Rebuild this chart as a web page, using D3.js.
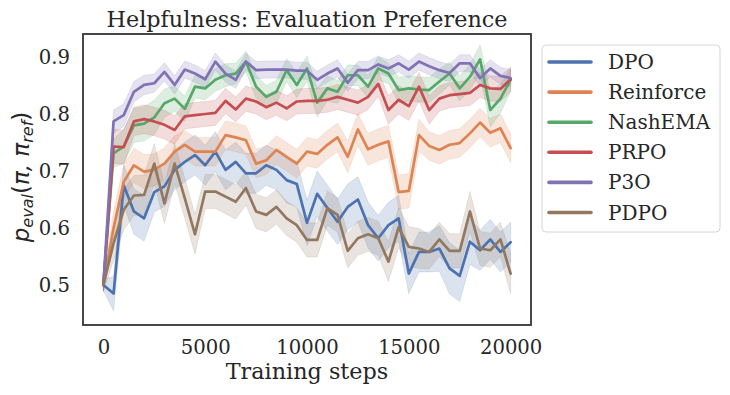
<!DOCTYPE html>
<html>
<head>
<meta charset="utf-8">
<script src="https://cdn.jsdelivr.net/npm/d3@7"></script>
<style>
  body { margin: 0; background: #fff; }
  svg { font-family: "DejaVu Serif", serif; }
</style>
</head>
<body>
<svg id="chart" width="730" height="395"></svg>
<script>
// training steps, one point every 500 steps
var steps = d3.range(41).map(function(i) { return i * 500; });

var names = ["DPO", "Reinforce", "NashEMA", "PRPO", "P3O", "PDPO"];
var colors = ["#4c72b0", "#dd8452", "#55a868", "#c44e52", "#8172b3", "#937860"];

var dpo = [0.500, 0.485, 0.675, 0.629, 0.617, 0.663, 0.673, 0.702, 0.716, 0.728,
           0.710, 0.734, 0.702, 0.716, 0.696, 0.696, 0.710, 0.702, 0.684, 0.677,
           0.609, 0.660, 0.635, 0.611, 0.637, 0.650, 0.605, 0.582, 0.605, 0.617,
           0.520, 0.558, 0.558, 0.564, 0.529, 0.516, 0.576, 0.561, 0.580, 0.558, 0.575];
var reinforce = [0.500, 0.600, 0.681, 0.710, 0.699, 0.702, 0.713, 0.734, 0.746, 0.734,
           0.734, 0.734, 0.763, 0.759, 0.754, 0.713, 0.719, 0.737, 0.725, 0.713,
           0.734, 0.730, 0.746, 0.759, 0.725, 0.773, 0.738, 0.746, 0.752, 0.663,
           0.665, 0.763, 0.744, 0.737, 0.746, 0.749, 0.766, 0.785, 0.767, 0.775, 0.740];
var nashema = [0.500, 0.731, 0.743, 0.780, 0.783, 0.794, 0.819, 0.827, 0.809, 0.848,
           0.845, 0.860, 0.868, 0.871, 0.892, 0.848, 0.830, 0.839, 0.877, 0.851,
           0.880, 0.820, 0.845, 0.839, 0.868, 0.868, 0.848, 0.880, 0.871, 0.842,
           0.845, 0.843, 0.842, 0.857, 0.871, 0.845, 0.865, 0.896, 0.807, 0.827, 0.860];
var prpo = [0.500, 0.743, 0.742, 0.787, 0.791, 0.787, 0.781, 0.772, 0.796, 0.798,
           0.800, 0.802, 0.823, 0.808, 0.827, 0.822, 0.812, 0.820, 0.810, 0.822,
           0.823, 0.823, 0.825, 0.830, 0.825, 0.820, 0.830, 0.853, 0.807, 0.825,
           0.814, 0.848, 0.807, 0.827, 0.833, 0.835, 0.837, 0.851, 0.845, 0.844, 0.861];
var p3o = [0.500, 0.787, 0.798, 0.839, 0.851, 0.854, 0.874, 0.851, 0.878, 0.871,
           0.861, 0.892, 0.871, 0.860, 0.892, 0.877, 0.878, 0.878, 0.878, 0.876,
           0.876, 0.860, 0.871, 0.880, 0.855, 0.877, 0.877, 0.887, 0.880, 0.889,
           0.878, 0.892, 0.884, 0.877, 0.872, 0.889, 0.889, 0.863, 0.880, 0.867, 0.863];
var pdpo = [0.500, 0.573, 0.632, 0.657, 0.658, 0.713, 0.643, 0.713, 0.652, 0.589,
           0.664, 0.664, 0.655, 0.646, 0.670, 0.629, 0.623, 0.637, 0.617, 0.605,
           0.579, 0.579, 0.635, 0.623, 0.560, 0.582, 0.589, 0.582, 0.541, 0.601,
           0.567, 0.564, 0.558, 0.580, 0.560, 0.560, 0.629, 0.564, 0.561, 0.580, 0.520];

// half width of the shaded confidence band
var dpoCi = [0.010, 0.030, 0.035, 0.040, 0.040, 0.035, 0.035, 0.035, 0.035, 0.035,
           0.035, 0.035, 0.035, 0.035, 0.035, 0.035, 0.035, 0.035, 0.040, 0.040,
           0.040, 0.040, 0.040, 0.040, 0.040, 0.040, 0.040, 0.040, 0.040, 0.040,
           0.035, 0.035, 0.035, 0.040, 0.045, 0.045, 0.040, 0.035, 0.035, 0.035, 0.035];
var reinforceCi = [0.010, 0.030, 0.030, 0.030, 0.030, 0.028, 0.028, 0.028, 0.025, 0.025,
           0.025, 0.025, 0.025, 0.025, 0.025, 0.025, 0.025, 0.025, 0.025, 0.025,
           0.025, 0.025, 0.025, 0.025, 0.028, 0.028, 0.028, 0.028, 0.028, 0.030,
           0.030, 0.028, 0.025, 0.025, 0.025, 0.025, 0.025, 0.025, 0.025, 0.025, 0.025];
var nashemaCi = [0.010, 0.025, 0.030, 0.030, 0.030, 0.030, 0.025, 0.022, 0.022, 0.020,
           0.020, 0.020, 0.020, 0.018, 0.018, 0.020, 0.020, 0.020, 0.020, 0.022,
           0.022, 0.025, 0.022, 0.020, 0.018, 0.018, 0.020, 0.020, 0.018, 0.022,
           0.022, 0.022, 0.022, 0.022, 0.020, 0.022, 0.022, 0.025, 0.030, 0.025, 0.020];
var prpoCi = [0.010, 0.030, 0.030, 0.025, 0.025, 0.025, 0.025, 0.025, 0.022, 0.022,
           0.022, 0.022, 0.022, 0.022, 0.022, 0.022, 0.022, 0.022, 0.022, 0.022,
           0.022, 0.022, 0.022, 0.022, 0.022, 0.022, 0.022, 0.022, 0.025, 0.025,
           0.025, 0.025, 0.025, 0.022, 0.022, 0.022, 0.022, 0.022, 0.022, 0.022, 0.022];
var p3oCi = [0.010, 0.020, 0.020, 0.018, 0.017, 0.016, 0.016, 0.016, 0.015, 0.015,
           0.015, 0.015, 0.015, 0.015, 0.015, 0.015, 0.015, 0.015, 0.015, 0.015,
           0.015, 0.015, 0.015, 0.015, 0.015, 0.015, 0.015, 0.015, 0.015, 0.015,
           0.015, 0.015, 0.015, 0.015, 0.015, 0.015, 0.015, 0.015, 0.015, 0.015, 0.015];
var pdpoCi = [0.012, 0.030, 0.035, 0.035, 0.035, 0.035, 0.035, 0.035, 0.035, 0.035,
           0.030, 0.030, 0.030, 0.030, 0.030, 0.030, 0.030, 0.030, 0.030, 0.030,
           0.030, 0.030, 0.030, 0.030, 0.030, 0.030, 0.030, 0.030, 0.035, 0.035,
           0.035, 0.035, 0.030, 0.030, 0.030, 0.030, 0.035, 0.030, 0.030, 0.030, 0.035];

var xTicks = [0, 5000, 10000, 15000, 20000];
var yTicks = [0.5, 0.6, 0.7, 0.8, 0.9];

var series = [
  { name: names[0], color: colors[0], values: dpo, ci: dpoCi },
  { name: names[1], color: colors[1], values: reinforce, ci: reinforceCi },
  { name: names[2], color: colors[2], values: nashema, ci: nashemaCi },
  { name: names[3], color: colors[3], values: prpo, ci: prpoCi },
  { name: names[4], color: colors[4], values: p3o, ci: p3oCi },
  { name: names[5], color: colors[5], values: pdpo, ci: pdpoCi }
];

var plotLeft = 83, plotRight = 531, plotTop = 34, plotBottom = 325;

var svg = d3.select("#chart");

var x = d3.scaleLinear().domain([-1000, 21000]).range([plotLeft, plotRight]);
var y = d3.scaleLinear().domain([0.4298, 0.9404]).range([plotBottom, plotTop]);

svg.append("clipPath").attr("id", "plot-clip")
  .append("rect")
    .attr("x", plotLeft).attr("y", plotTop)
    .attr("width", plotRight - plotLeft).attr("height", plotBottom - plotTop);

var plot = svg.append("g").attr("clip-path", "url(#plot-clip)");

var area = d3.area()
    .x(function(d, i) { return x(steps[i]); })
    .y0(function(d) { return y(d[0] - d[1]); })
    .y1(function(d) { return y(d[0] + d[1]); });

var line = d3.line()
    .x(function(d, i) { return x(steps[i]); })
    .y(function(d) { return y(d); });

series.forEach(function(s) {
  plot.append("path")
      .datum(s.values.map(function(v, i) { return [v, s.ci[i]]; }))
      .attr("d", area)
      .attr("fill", s.color)
      .attr("fill-opacity", 0.2)
      .attr("stroke", s.color)
      .attr("stroke-opacity", 0.2)
      .attr("stroke-width", 0.8);
});

series.forEach(function(s) {
  plot.append("path")
      .datum(s.values)
      .attr("d", line)
      .attr("fill", "none")
      .attr("stroke", s.color)
      .attr("stroke-width", 2.7)
      .attr("stroke-linejoin", "round")
      .attr("stroke-linecap", "round");
});

// frame
svg.append("rect")
    .attr("x", plotLeft).attr("y", plotTop)
    .attr("width", plotRight - plotLeft).attr("height", plotBottom - plotTop)
    .attr("fill", "none")
    .attr("stroke", "#333")
    .attr("stroke-width", 1.8);

// axes without tick marks (seaborn white style)
svg.append("g")
    .attr("transform", "translate(0," + plotBottom + ")")
    .call(d3.axisBottom(x).tickValues(xTicks).tickSize(0).tickPadding(15).tickFormat(d3.format("d")));
svg.append("g")
    .attr("transform", "translate(" + plotLeft + ",0)")
    .call(d3.axisLeft(y).tickValues(yTicks).tickSize(0).tickPadding(13).tickFormat(d3.format(".1f")));

svg.selectAll(".domain").remove();
svg.selectAll(".tick text")
    .attr("font-family", "DejaVu Serif")
    .attr("font-size", 19.6)
    .attr("fill", "#262626");

svg.append("text")
    .attr("x", (plotLeft + plotRight) / 2)
    .attr("y", 27)
    .attr("text-anchor", "middle")
    .attr("font-size", 22.3)
    .attr("fill", "#262626")
    .text("Helpfulness: Evaluation Preference");

svg.append("text")
    .attr("x", (plotLeft + plotRight) / 2)
    .attr("y", 379)
    .attr("text-anchor", "middle")
    .attr("font-size", 22.3)
    .attr("fill", "#262626")
    .text("Training steps");

// y label, mathtext style
var yl = svg.append("text")
    .attr("transform", "translate(29,177) rotate(-90)")
    .attr("text-anchor", "middle")
    .attr("font-family", "DejaVu Sans")
    .attr("font-style", "italic")
    .attr("font-size", 23)
    .attr("fill", "#262626");
yl.append("tspan").text("p");
yl.append("tspan").attr("font-size", 16).attr("dy", 4).text("eval");
yl.append("tspan").attr("dy", -4).attr("font-style", "normal").text("(");
yl.append("tspan").text("π, π");
yl.append("tspan").attr("font-size", 16).attr("dy", 4).text("ref");
yl.append("tspan").attr("dy", -4).attr("font-style", "normal").text(")");

// legend
var legend = svg.append("g");
legend.append("rect")
    .attr("x", 542).attr("y", 45)
    .attr("width", 178).attr("height", 187)
    .attr("rx", 4)
    .attr("fill", "#fff")
    .attr("fill-opacity", 0.8)
    .attr("stroke", "#d6d6d6")
    .attr("stroke-width", 1);

var item = legend.selectAll("g.item")
    .data(series)
  .enter().append("g")
    .attr("class", "item")
    .attr("transform", function(d, i) { return "translate(0," + (62 + i * 30.1) + ")"; });

item.append("line")
    .attr("x1", 549).attr("x2", 591)
    .attr("stroke", function(d) { return d.color; })
    .attr("stroke-width", 3.6)
    .attr("stroke-linecap", "round");

item.append("text")
    .attr("x", 608)
    .attr("y", 7)
    .attr("font-size", 20)
    .attr("fill", "#262626")
    .text(function(d) { return d.name; });
</script>
</body>
</html>
